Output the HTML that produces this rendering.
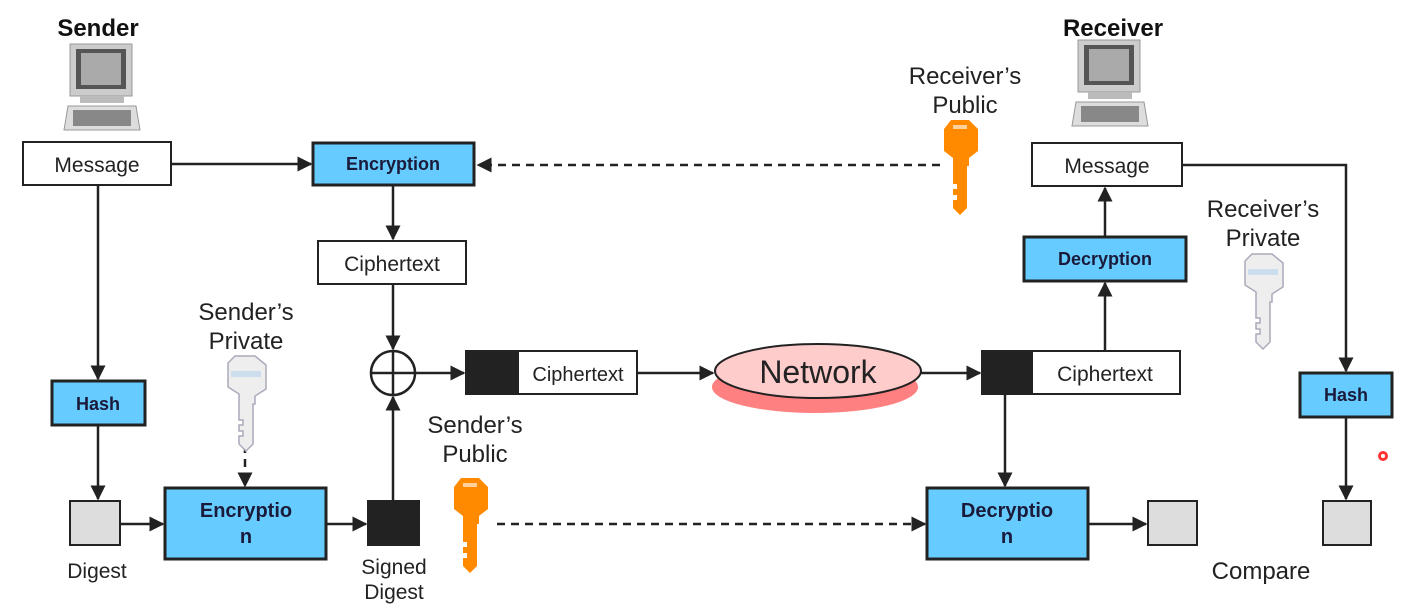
<!DOCTYPE html>
<html><head><style>body{margin:0;background:#fff}svg{display:block}text{font-family:"Liberation Sans",sans-serif}</style></head>
<body>
<svg width="1405" height="615" viewBox="0 0 1405 615" xmlns="http://www.w3.org/2000/svg">
<defs>
<marker id="a" viewBox="0 0 10 10" refX="9" refY="5" markerWidth="6" markerHeight="6" orient="auto"><path d="M0,0L10,5L0,10z" fill="#222"/></marker>
<g id="pc">
<rect x="8" y="0" width="62" height="52" fill="#ccc" stroke="#999"/>
<rect x="14" y="5" width="50" height="40" fill="#555"/>
<rect x="19" y="9" width="40" height="32" fill="#aaa"/>
<rect x="18" y="52" width="44" height="7" fill="#bbb"/>
<path d="M6,62L74,62L78,86L2,86z" fill="#ddd" stroke="#999"/>
<rect x="11" y="66" width="58" height="16" fill="#888"/>
</g>
<g id="ko">
<path d="M9,0h18l9,9v22l-9,7v8h-2v42l-7,7l-7-7v-8h4v-5h-4v-6h4v-5h-4v-18v-8l-9-7v-22z" fill="#ff8a00"/>
<rect x="11" y="5" width="14" height="4" fill="#fff" opacity=".6"/>
</g>
<g id="ks">
<path d="M10,0h20l11,9v24l-11,7v8h-2v40l-7,7l-7-7v-8h4v-5h-4v-6h4v-5h-4v-18v-8l-11-7v-24z" fill="#eee" stroke="#aab" stroke-width="1.5"/>
<rect x="6" y="15" width="30" height="6" fill="#cde"/>
</g>
</defs>
<g fill="none" stroke="#222" stroke-width="2.5">
<line x1="171" y1="164" x2="311" y2="164" marker-end="url(#a)"/>
<line x1="940" y1="165" x2="478" y2="165" stroke-dasharray="8,6" marker-end="url(#a)"/>
<line x1="393" y1="185" x2="393" y2="239" marker-end="url(#a)"/>
<line x1="393" y1="284" x2="393" y2="349" marker-end="url(#a)"/>
<line x1="415" y1="373" x2="464" y2="373" marker-end="url(#a)"/>
<line x1="637" y1="373" x2="713" y2="373" marker-end="url(#a)"/>
<line x1="920" y1="373" x2="980" y2="373" marker-end="url(#a)"/>
<line x1="1105" y1="351" x2="1105" y2="283" marker-end="url(#a)"/>
<line x1="1105" y1="237" x2="1105" y2="188" marker-end="url(#a)"/>
<polyline points="1182,165 1346,165 1346,371" marker-end="url(#a)"/>
<line x1="1346" y1="417" x2="1346" y2="499" marker-end="url(#a)"/>
<line x1="98" y1="185" x2="98" y2="379" marker-end="url(#a)"/>
<line x1="98" y1="425" x2="98" y2="499" marker-end="url(#a)"/>
<line x1="120" y1="524" x2="163" y2="524" marker-end="url(#a)"/>
<line x1="245" y1="445" x2="245" y2="486" stroke-dasharray="8,6" marker-end="url(#a)"/>
<line x1="326" y1="524" x2="366" y2="524" marker-end="url(#a)"/>
<line x1="393" y1="501" x2="393" y2="397" marker-end="url(#a)"/>
<line x1="497" y1="524" x2="925" y2="524" stroke-dasharray="8,6" marker-end="url(#a)"/>
<line x1="1005" y1="394" x2="1005" y2="486" marker-end="url(#a)"/>
<line x1="1088" y1="524" x2="1146" y2="524" marker-end="url(#a)"/>
<circle cx="393" cy="373" r="22" fill="#fff"/>
<line x1="371" y1="373" x2="415" y2="373"/><line x1="393" y1="351" x2="393" y2="395"/>
</g>
<g stroke="#222" stroke-width="2">
<rect x="23" y="142" width="148" height="43" fill="#fff"/>
<rect x="318" y="241" width="148" height="43" fill="#fff"/>
<rect x="518" y="351" width="119" height="43" fill="#fff"/>
<rect x="1032" y="351" width="148" height="43" fill="#fff"/>
<rect x="1032" y="143" width="150" height="43" fill="#fff"/>
<rect x="466" y="351" width="52" height="43" fill="#222"/>
<rect x="982" y="351" width="50" height="43" fill="#222"/>
<rect x="368" y="501" width="51" height="44" fill="#222"/>
<rect x="70" y="501" width="50" height="44" fill="#ddd"/>
<rect x="1148" y="501" width="49" height="44" fill="#ddd"/>
<rect x="1323" y="501" width="48" height="44" fill="#ddd"/>
</g>
<g stroke="#222" stroke-width="3" fill="#66ccff">
<rect x="313" y="143" width="161" height="42"/>
<rect x="1024" y="237" width="162" height="44"/>
<rect x="52" y="381" width="93" height="44"/>
<rect x="1300" y="373" width="92" height="44"/>
<rect x="165" y="488" width="161" height="71"/>
<rect x="927" y="488" width="161" height="71"/>
</g>
<ellipse cx="815" cy="387" rx="103" ry="26" fill="#ff8080"/>
<ellipse cx="818" cy="371" rx="103" ry="27" fill="#ffcccc" stroke="#222" stroke-width="2"/>
<use href="#pc" x="62" y="44"/><use href="#pc" x="1070" y="40"/>
<use href="#ko" x="942" y="120"/><use href="#ko" x="452" y="478"/>
<use href="#ks" x="1242" y="254"/><use href="#ks" x="225" y="356"/>
<circle cx="1383" cy="456" r="5" fill="#f33"/><circle cx="1383" cy="456" r="2" fill="#fff"/>
<g fill="#222" font-size="21" text-anchor="middle">
<text x="97" y="172">Message</text>
<text x="392" y="271">Ciphertext</text>
<text x="578" y="381" font-size="20">Ciphertext</text>
<text x="1105" y="381">Ciphertext</text>
<text x="1107" y="173">Message</text>
<text x="818" y="383" font-size="32">Network</text>
<text x="965" y="84" font-size="24">Receiver’s</text><text x="965" y="113" font-size="24">Public</text>
<text x="1263" y="217" font-size="24">Receiver’s</text><text x="1263" y="246" font-size="24">Private</text>
<text x="246" y="320" font-size="24">Sender’s</text><text x="246" y="349" font-size="24">Private</text>
<text x="475" y="433" font-size="24">Sender’s</text><text x="475" y="462" font-size="24">Public</text>
<text x="97" y="578">Digest</text>
<text x="394" y="574">Signed</text><text x="394" y="599">Digest</text>
<text x="1261" y="579" font-size="24">Compare</text>
</g>
<g fill="#1a1a3a" font-weight="bold" text-anchor="middle" font-size="18">
<text x="98" y="36" font-size="24" fill="#111">Sender</text>
<text x="1113" y="36" font-size="24" fill="#111">Receiver</text>
<text x="393" y="170">Encryption</text>
<text x="1105" y="265">Decryption</text>
<text x="98" y="410">Hash</text>
<text x="1346" y="401">Hash</text>
<text x="246" y="517" font-size="20">Encryptio</text><text x="246" y="543" font-size="20">n</text>
<text x="1007" y="517" font-size="20">Decryptio</text><text x="1007" y="543" font-size="20">n</text>
</g>
</svg>
</body></html>
